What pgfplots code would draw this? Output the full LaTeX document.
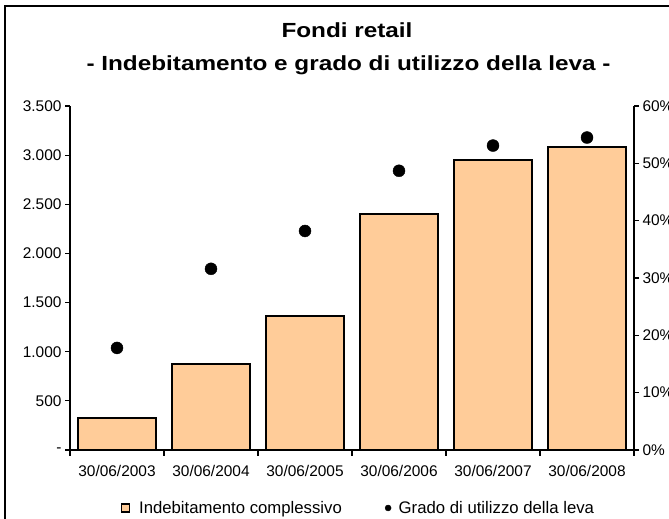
\documentclass[border=0pt]{standalone}
\usepackage{fontspec}
\setmainfont{Liberation Sans}
\newfontfamily\titlefont[FakeStretch=1.19]{Liberation Sans}
\usepackage{pgfplots}
\usepackage{pgfplotstable}
\pgfplotsset{compat=1.18}
\definecolor{barPeach}{HTML}{FFCC99}

% debt in EUR mln, leverage in percent
\pgfplotstableread{
x debt lev
0 325  17.8
1 875  31.6
2 1363 38.2
3 2398 48.7
4 2948 53.1
5 3086 54.5
}\datatab

\pgfplotsset{
  commonax/.style={
    at={(0,0)}, anchor=south west,
    scale only axis, width=564bp, height=344bp,
    xmin=-0.5, xmax=5.5, enlargelimits=false,
    tick align=outside,
    major tick length=5bp, minor tick length=6bp,
    tick style={black, line width=1.2bp},
    axis line style={black, line width=1.8bp},
    ticklabel style={font=\fontsize{15.5}{18}\selectfont},
  },
  barleg/.style={legend image code/.code={%
    \draw[fill=barPeach, draw=black, line width=1.2bp] (0bp,-4bp) rectangle (8bp,4bp);
    \path[draw=none, fill=none] (0bp,0bp) -- (15.6bp,0bp);}},
  dotleg/.style={legend image code/.code={%
    \fill[black] (3bp,0bp) circle (3bp);
    \path[draw=none, fill=none] (0bp,0bp) -- (11.6bp,0bp);}},
}

\begin{document}
\begin{tikzpicture}[x=1bp,y=1bp]
\useasboundingbox (-70,-69) rectangle (599,450);
\draw[line width=2.5bp] (-65,-90) -- (-65,444) -- (640,444);
\node[font=\titlefont\bfseries\fontsize{20.5}{24}\selectfont, anchor=base] at (277,412.7) {Fondi retail};
\node[font=\titlefont\bfseries\fontsize{20.5}{24}\selectfont, anchor=base] at (278.5,379) {- Indebitamento e grado di utilizzo della leva -};

\begin{axis}[commonax,
  ymin=0, ymax=3500,
  axis x line*=bottom, axis y line*=left,
  xtick={0,...,5},
  xticklabels={30/06/2003,30/06/2004,30/06/2005,30/06/2006,30/06/2007,30/06/2008},
  xticklabel style={yshift=-7bp},
  major x tick style={draw=none},
  minor xtick={-0.5,0.5,...,5.5},
  ytick={0,500,...,3500},
  yticklabels={-,500,1.000,1.500,2.000,2.500,3.000,3.500},
  ybar, bar width=0.84, bar shift=0pt,
]
\addplot[fill=barPeach, draw=black, line width=2bp] table[x=x, y=debt] {\datatab};
\end{axis}

\begin{axis}[commonax,
  ymin=0, ymax=60,
  axis x line=none, axis y line*=right,
  ytick={0,10,...,60},
  yticklabels={0\%,10\%,20\%,30\%,40\%,50\%,60\%},
  legend style={at={(0.5115,-0.1686)}, anchor=center, draw=none,
    font=\fontsize{16.8}{20}\selectfont, legend columns=2,
    /tikz/every even column/.append style={column sep=41bp}},
  legend cell align=left,
]
\addlegendimage{barleg}
\addlegendentry{Indebitamento complessivo}
\addplot[only marks, mark=*, mark size=6bp, black, dotleg]
  table[x=x, y=lev] {\datatab};
\addlegendentry{Grado di utilizzo della leva}
\end{axis}
\end{tikzpicture}
\end{document}
